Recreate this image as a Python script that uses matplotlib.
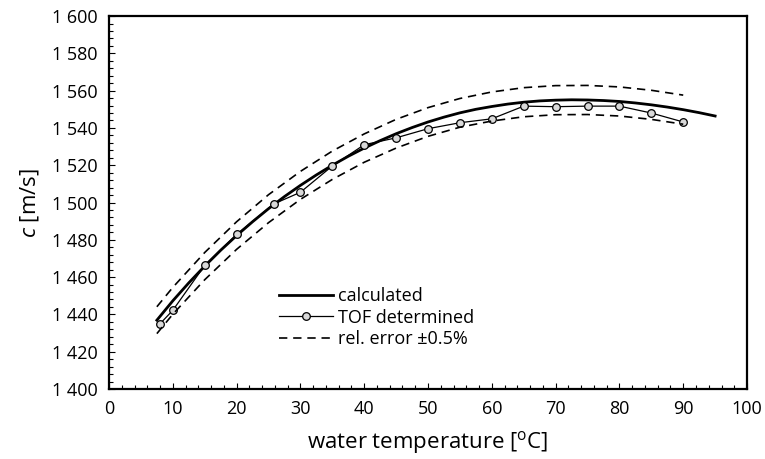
import matplotlib
matplotlib.use('Agg')
import matplotlib.pyplot as plt
from matplotlib.ticker import MultipleLocator

plt.rcParams['font.family'] = ['Open Sans', 'DejaVu Sans']
plt.rcParams['mathtext.fontset'] = 'custom'
plt.rcParams['mathtext.rm'] = 'Open Sans'
plt.rcParams['mathtext.it'] = 'Open Sans:italic'

# calculated speed of sound in water
t_calc = [7.5, 10, 12.5, 15, 17.5, 20, 22.5, 25, 27.5, 30, 32.5, 35, 37.5, 40,
          42.5, 45, 47.5, 50, 52.5, 55, 57.5, 60, 62.5, 65, 67.5, 70, 72.5, 75,
          77.5, 80, 82.5, 85, 87.5, 90, 92.5, 95]
c_calc = [1436.9, 1447.3, 1456.9, 1465.9, 1474.4, 1482.3, 1489.7, 1496.7, 1503.2,
          1509.2, 1514.8, 1520.0, 1524.8, 1529.2, 1533.2, 1536.9, 1540.2, 1543.2,
          1545.8, 1548.1, 1550.0, 1551.5, 1552.8, 1553.8, 1554.5, 1554.9, 1555.1,
          1555.0, 1554.7, 1554.2, 1553.4, 1552.4, 1551.2, 1549.8, 1548.2, 1546.4]

# +-0.5% band
t_err = [7.5, 10, 15, 20, 25, 30, 35, 40, 45, 50, 55, 60, 65, 70, 75, 80, 85, 90]
c_upper = [1444.1, 1454.5, 1473.2, 1489.7, 1504.2, 1516.7, 1527.6, 1536.8, 1544.6,
           1550.9, 1555.8, 1559.3, 1561.6, 1562.7, 1562.8, 1562.0, 1560.2, 1557.6]
c_lower = [1429.7, 1440.1, 1458.6, 1474.9, 1489.2, 1501.7, 1512.4, 1521.6, 1529.2,
           1535.5, 1540.4, 1543.7, 1546.0, 1547.1, 1547.2, 1546.4, 1544.6, 1542.0]

# TOF measurements
t_tof = [8, 10, 15, 20, 25.8, 30, 35, 40, 45, 50, 55, 60, 65, 70, 75, 80, 85, 90]
c_tof = [1435.0, 1442.2, 1466.3, 1482.9, 1499.2, 1505.5, 1519.6, 1531.0, 1534.7,
         1539.6, 1542.8, 1544.9, 1551.7, 1551.4, 1551.7, 1551.7, 1548.0, 1543.2]

x_ticks = [0, 10, 20, 30, 40, 50, 60, 70, 80, 90, 100]
y_ticks = [1400, 1420, 1440, 1460, 1480, 1500, 1520, 1540, 1560, 1580, 1600]
y_labels = ['1 400', '1 420', '1 440', '1 460', '1 480', '1 500', '1 520',
            '1 540', '1 560', '1 580', '1 600']

fig = plt.figure(figsize=(7.65, 4.59), dpi=100)
ax = fig.add_axes([0.1425, 0.1525, 0.834, 0.8125])

ax.plot(t_calc, c_calc, color='black', lw=2.0, label='calculated')
ax.plot(t_tof, c_tof, color='black', lw=0.9, marker='o', markersize=5.5,
        markerfacecolor='#d9d9d9', markeredgecolor='black', markeredgewidth=0.9,
        label='TOF determined')
ax.plot(t_err, c_upper, color='black', lw=1.2, dashes=(5, 3.5),
        label='rel. error ±0.5%')
ax.plot(t_err, c_lower, color='black', lw=1.2, dashes=(5, 3.5))

ax.set_xlim(0, 100)
ax.set_ylim(1400, 1600)
ax.set_xticks(x_ticks)
ax.set_yticks(y_ticks)
ax.set_yticklabels(y_labels)
ax.xaxis.set_minor_locator(MultipleLocator(2))
ax.yaxis.set_minor_locator(MultipleLocator(4))
ax.tick_params(which='both', direction='in', top=False, right=False,
               labelsize=13, width=0.8)
ax.tick_params(which='major', length=4, pad=8)
ax.tick_params(which='minor', length=3)
for s in ax.spines.values():
    s.set_linewidth(1.6)

ax.set_xlabel(r'water temperature [$^{\mathrm{o}}$C]', fontsize=16, labelpad=8)
ax.set_ylabel(r'$\mathit{c}$ [m/s]', fontsize=16, labelpad=8)

ax.legend(loc='lower left', bbox_to_anchor=(0.252, 0.085), frameon=False,
          fontsize=13, handlelength=3.0, handletextpad=0.3, labelspacing=0.2,
          borderpad=0)

fig.savefig('out.png', dpi=100)
